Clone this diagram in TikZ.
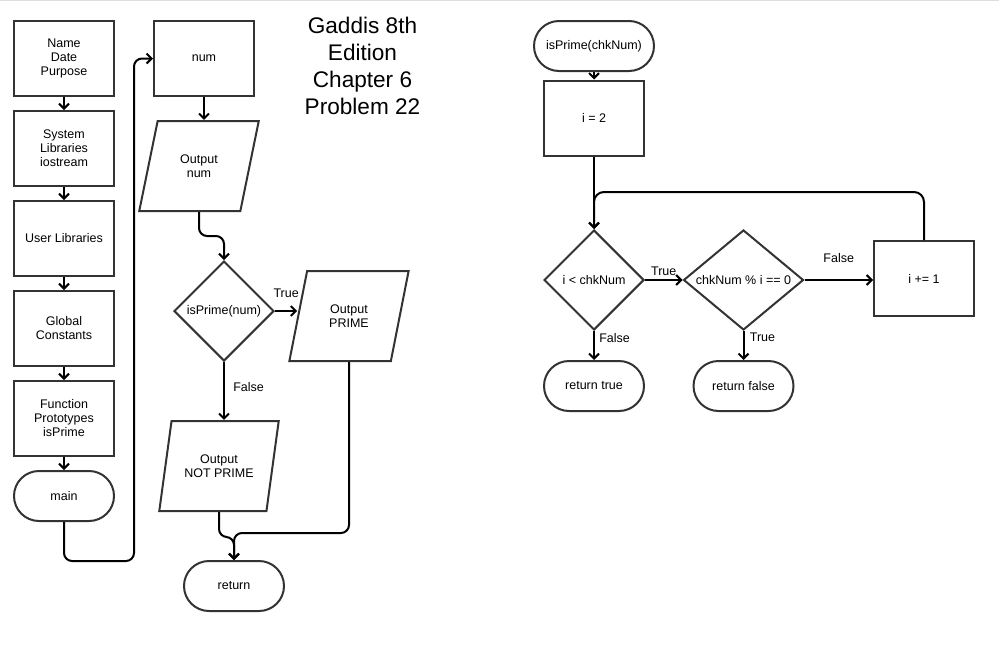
\documentclass[tikz,border=0pt]{standalone}
\usepackage{fontspec}
\setmainfont{Liberation Sans}
\usetikzlibrary{shapes.geometric, arrows.meta}

\definecolor{edge}{HTML}{333333}

\begin{document}
\begin{tikzpicture}[x=1pt, y=-1pt,
    box/.style={draw=edge, line width=2pt, minimum width=100pt, minimum height=75pt, align=center, font=\fontsize{12.5}{14}\selectfont},
    term/.style={box, rounded corners=25pt, minimum height=50pt},
    io/.style={box, trapezium, trapezium left angle=71.57, trapezium right angle=108.43, trapezium stretches=true, minimum width=120pt, minimum height=90pt},
    decision/.style={box, diamond, minimum height=100pt, inner sep=0pt},
    flow/.style={line width=2pt, -{Straight Barb[length=5pt, width=10pt]}},
    lbl/.style={font=\fontsize{12.5}{14}\selectfont}]

    \useasboundingbox (0,0) rectangle (999,659);
    \draw[black!13, line width=2pt] (0,0) -- (999,0);

    % main program
    \node[box] (info) at (64,58.5) {Name\\Date\\Purpose};
    \node[box] (syslib) at (64,148.5) {System\\Libraries\\iostream};
    \node[box] (userlib) at (64,238.5) {User Libraries};
    \node[box] (global) at (64,328.5) {Global\\Constants};
    \node[box] (proto) at (64,418.5) {Function\\Prototypes\\isPrime};
    \node[term] (main) at (64,496) {main};

    \node[box] (num) at (204,58.5) {num};
    \node[io] (outnum) at (199,166) {Output\\num};
    \node[decision] (isprime) at (224,311) {isPrime(num)};
    \node[io] (prime) at (349,316) {Output\\PRIME};
    \node[io] (notprime) at (219,466) {Output\\NOT PRIME};
    \node[term] (ret) at (234,586) {return};

    \node[font=\fontsize{22.6}{27}\selectfont, align=center] (title) at (362.5,66) {Gaddis 8th\\Edition\\Chapter 6\\Problem 22};

    \draw[flow] (info.south) -- (syslib.north);
    \draw[flow] (syslib.south) -- (userlib.north);
    \draw[flow] (userlib.south) -- (global.north);
    \draw[flow] (global.south) -- (proto.north);
    \draw[flow] (proto.south) -- (main.north);
    \draw[flow, rounded corners=8pt] (main.south) |- (134,561) |- (num.west);

    \draw[flow] (num.south) -- (num.south |- outnum.north);
    \draw[flow, rounded corners=8pt] (outnum.south) |- (224,236) -- (isprime.north);
    \draw[flow] (isprime.east) -- node[lbl, above=9pt] {True} (isprime.east -| prime.west);
    \draw[flow] (isprime.south) -- node[lbl, right=5pt, pos=0.43] {False} (isprime.south |- notprime.north);
    \draw[flow, rounded corners=8pt] (notprime.south) |- (234,537) -- (ret.north);
    \draw[flow, rounded corners=8pt] (prime.south) |- (234,533) -- (ret.north);

    % isPrime function
    \node[term, minimum width=120pt] (func) at (594,46) {isPrime(chkNum)};
    \node[box] (init) at (594,118) {i = 2};
    \node[decision, minimum width=100pt] (lt) at (594,280) {i < chkNum};
    \node[decision, minimum width=120pt, shape aspect=1.2] (divis) at (743.5,280) {chkNum \% i == 0};
    \node[box] (inc) at (924,278.5) {i += 1};
    \node[term] (rettrue) at (594,386) {return true};
    \node[term] (retfalse) at (743.5,386) {return false};

    \draw[flow] (func.south) -- (init.north);
    \draw[flow] (init.south) -- (lt.north);
    \draw[flow] (lt.east) -- node[lbl, above] {True} (divis.west);
    \draw[flow] (divis.east) -- node[lbl, above=13pt] {False} (divis.east -| inc.west);
    \draw[flow, rounded corners=10pt] (inc.north) |- (594,192) -- (lt.north);
    \draw[flow] (lt.south) -- node[lbl, right=1pt, pos=0.25] {False} (rettrue.north);
    \draw[flow] (divis.south) -- node[lbl, right=2pt, pos=0.2] {True} (retfalse.north);

\end{tikzpicture}
\end{document}
